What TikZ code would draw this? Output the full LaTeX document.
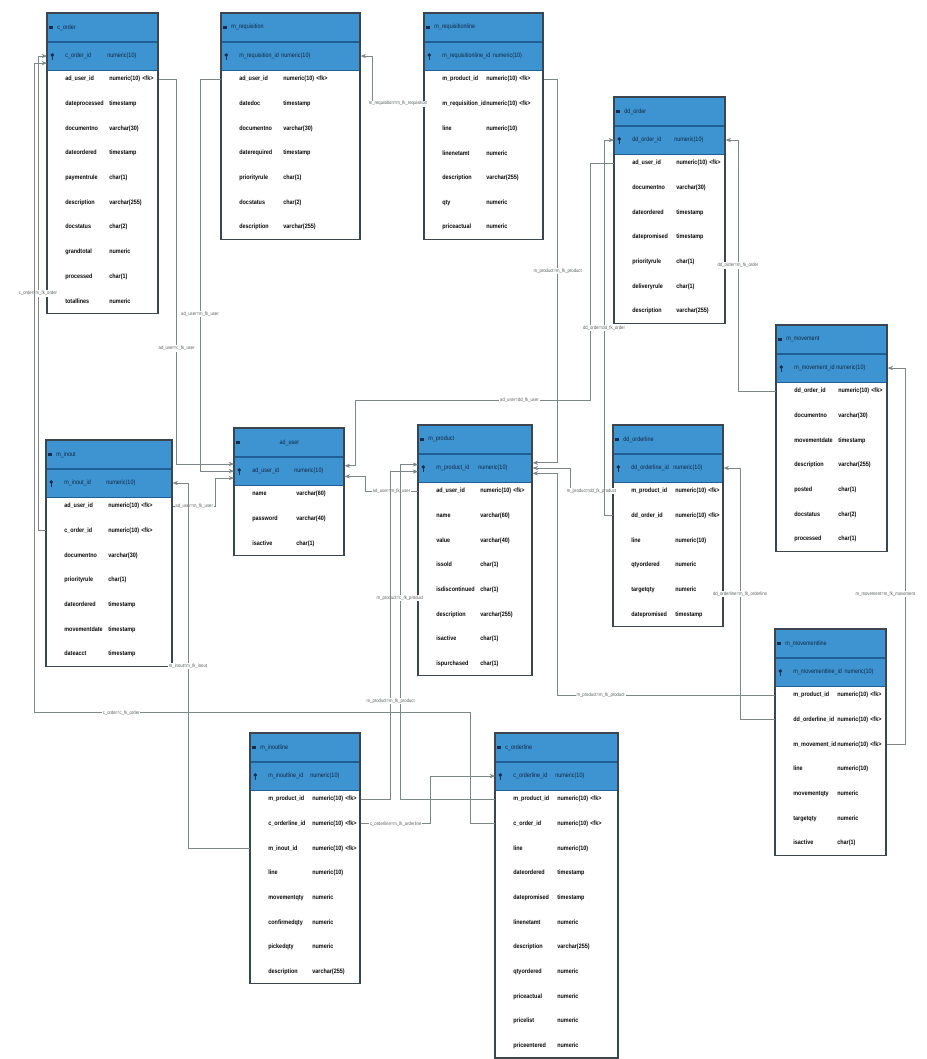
\documentclass[tikz,border=0pt]{standalone}
\usepackage{fontspec}
\setmainfont{Liberation Sans}
\newfontfamily\erfam[FakeStretch=0.86]{Liberation Sans}
\usetikzlibrary{arrows.meta}

\newcommand{\hdrfont}{\erfam\fontsize{3.6}{4}\selectfont}
\newcommand{\rowfont}{\erfam\bfseries\fontsize{3.6}{4}\selectfont}
\newcommand{\lblfont}{\erfam\fontsize{2.8}{3}\selectfont}
% name column: fixed width, or a small gap when the name is longer
\newcommand{\erCol}[2]{\sbox0{#2}\ifdim\wd0<#1\makebox[#1][l]{#2}\else#2\hspace{0.05cm}\fi}

\tikzset{
  tblhead/.style={rectangle, draw={rgb,255:red,30;green,95;blue,150}, fill={rgb,255:red,62;green,148;blue,208}, text={rgb,255:red,18;green,38;blue,68}, inner xsep=0pt, inner ysep=0pt, minimum height=0.56cm, anchor=north west, align=left, font=\hdrfont},
  tblrow/.style={rectangle, inner sep=0pt, minimum height=0.4cm, anchor=west, align=left, font=\rowfont, text={rgb,255:red,10;green,10;blue,10}},
  tblbody/.style={draw={rgb,255:red,60;green,70;blue,80}, line width=0.6pt},
  keyclr/.style={fill={rgb,255:red,20;green,45;blue,80}, draw={rgb,255:red,20;green,45;blue,80}},
  fklink/.style={draw={rgb,255:red,125;green,135;blue,135}, line width=0.35pt, -{Stealth[length=3pt,width=2.4pt]}},
  fklabel/.style={font=\lblfont, text={rgb,255:red,90;green,95;blue,95}, fill=white, inner sep=0.5pt}
}

% #1 name, #2 left, #3 top, #4 width (px), #5 title, #6 key column, #7 rows
\newcommand{\erTable}[7]{%
  \pgfmathsetmacro{\erW}{#4*0.02}%
  \node[tblhead, text width=\erW cm] (#1-t) at (#2,#3) {\hspace*{0.2cm}#5};
  \node[tblhead, text width=\erW cm] (#1-pk) at (#1-t.south west) {\hspace*{0.36cm}\erCol{0.84cm}{#6}numeric(10)};
  \fill[keyclr] ([xshift=3pt,yshift=0.6pt]#1-pk.west) circle (0.8pt);
  \draw[keyclr, line width=0.45pt] ([xshift=3pt]#1-pk.west) -- ++(0,-2.2pt);
  \fill[keyclr] ([xshift=1.6pt,yshift=-0.7pt]#1-t.west) rectangle ++(1.4pt,1.4pt);
  \foreach \fld/\typ [count=\i] in {#7} {
    \pgfmathsetmacro{\erY}{#3+66+24.7*(\i-1)}
    \node[tblrow, text width=\erW cm] (#1-r\i) at (#2,\erY) {\hspace*{0.36cm}\erCol{0.88cm}{\fld}\typ};
    \xdef\erN{\i}
  }
  \pgfmathsetmacro{\erB}{#3+66+24.7*(\erN-1)+12}
  \draw[tblbody] (#2,#3) rectangle (#2+#4,\erB);
}

\begin{document}
\begin{tikzpicture}[x=0.02cm, y=-0.02cm]
\useasboundingbox[fill=white] (0,0) rectangle (927,1059);

% tables
\erTable{cord}{47}{13}{111}{c\_order}{c\_order\_id}{ad\_user\_id/numeric(10) <fk>, dateprocessed/timestamp, documentno/varchar(30), dateordered/timestamp, paymentrule/char(1), description/varchar(255), docstatus/char(2), grandtotal/numeric, processed/char(1), totallines/numeric}
\erTable{mreq}{221}{13}{139}{m\_requisition}{m\_requisition\_id}{ad\_user\_id/numeric(10) <fk>, datedoc/timestamp, documentno/varchar(30), daterequired/timestamp, priorityrule/char(1), docstatus/char(2), description/varchar(255)}
\erTable{mreql}{424}{13}{119}{m\_requisitionline}{m\_requisitionline\_id}{m\_product\_id/numeric(10) <fk>, m\_requisition\_id/numeric(10) <fk>, line/numeric(10), linenetamt/numeric, description/varchar(255), qty/numeric, priceactual/numeric}
\erTable{ddo}{614}{97}{111}{dd\_order}{dd\_order\_id}{ad\_user\_id/numeric(10) <fk>, documentno/varchar(30), dateordered/timestamp, datepromised/timestamp, priorityrule/char(1), deliveryrule/char(1), description/varchar(255)}
\erTable{mmov}{776}{325}{111}{m\_movement}{m\_movement\_id}{dd\_order\_id/numeric(10) <fk>, documentno/varchar(30), movementdate/timestamp, description/varchar(255), posted/char(1), docstatus/char(2), processed/char(1)}
\erTable{minout}{46}{440}{126}{m\_inout}{m\_inout\_id}{ad\_user\_id/numeric(10) <fk>, c\_order\_id/numeric(10) <fk>, documentno/varchar(30), priorityrule/char(1), dateordered/timestamp, movementdate/timestamp, dateacct/timestamp}
\erTable{aduser}{234}{428}{110}{\makebox[1.8cm]{ad\_user}}{ad\_user\_id}{name/varchar(60), password/varchar(40), isactive/char(1)}
\erTable{mprod}{418}{425}{114}{m\_product}{m\_product\_id}{ad\_user\_id/numeric(10) <fk>, name/varchar(60), value/varchar(40), issold/char(1), isdiscontinued/char(1), description/varchar(255), isactive/char(1), ispurchased/char(1)}
\erTable{ddol}{613}{425}{110}{dd\_orderline}{dd\_orderline\_id}{m\_product\_id/numeric(10) <fk>, dd\_order\_id/numeric(10) <fk>, line/numeric(10), qtyordered/numeric, targetqty/numeric, datepromised/timestamp}
\erTable{mmovl}{775}{629}{111}{m\_movementline}{m\_movementline\_id}{m\_product\_id/numeric(10) <fk>, dd\_orderline\_id/numeric(10) <fk>, m\_movement\_id/numeric(10) <fk>, line/numeric(10), movementqty/numeric, targetqty/numeric, isactive/char(1)}
\erTable{minoutl}{250}{733}{110}{m\_inoutline}{m\_inoutline\_id}{m\_product\_id/numeric(10) <fk>, c\_orderline\_id/numeric(10) <fk>, m\_inout\_id/numeric(10) <fk>, line/numeric(10), movementqty/numeric, confirmedqty/numeric, pickedqty/numeric, description/varchar(255)}
\erTable{cordl}{495}{733}{123}{c\_orderline}{c\_orderline\_id}{m\_product\_id/numeric(10) <fk>, c\_order\_id/numeric(10) <fk>, line/numeric(10), dateordered/timestamp, datepromised/timestamp, linenetamt/numeric, description/varchar(255), qtyordered/numeric, priceactual/numeric, pricelist/numeric, priceentered/numeric}

% references to ad_user
\draw[fklink] (cord-r1.east) -- ++(18,0) |- node[fklabel, pos=0.35] {ad\_user=c\_fk\_user} ([yshift=4pt]aduser-pk.west);
\draw[fklink] (mreq-r1.west) -- ++(-21,0) |- node[fklabel, pos=0.3] {ad\_user=m\_fk\_user} (aduser-pk.west);
\draw[fklink] (minout-r1.east) -- node[fklabel] {ad\_user=m\_fk\_user} ++(43,0) |- ([yshift=-4pt]aduser-pk.west);
\draw[fklink] (mprod-r1.west) -- node[fklabel] {ad\_user=m\_fk\_user} ++(-53,0) |- ([yshift=-3pt]aduser-pk.east);
\draw[fklink] (ddo-r1.west) -- ++(-24,0) |- node[fklabel, pos=0.65] {ad\_user=dd\_fk\_user} ++(-235,237) |- ([yshift=3pt]aduser-pk.east);

% references to c_order and m_inout
\draw[fklink] (minout-r2.west) -- ++(-8,0) |- node[fklabel, pos=0.25] {c\_order=m\_fk\_order} (cord-pk.west);
\draw[fklink] (cordl-r2.west) -- ++(-25,0) |- node[fklabel, pos=0.9] {c\_order=c\_fk\_order} ++(-436,-111) |- ([yshift=-4pt]cord-pk.west);
\draw[fklink] (minoutl-r3.west) -- ++(-62,0) |- node[fklabel, pos=0.25] {m\_inout=m\_fk\_inout} (minout-pk.east);
\draw[fklink] (minoutl-r2.east) -- node[fklabel] {c\_orderline=m\_fk\_orderline} ++(70,0) |- (cordl-pk.west);

% references to m_product
\draw[fklink] (cordl-r1.west) -- ++(-95,0) |- node[fklabel, pos=0.3] {m\_product=c\_fk\_product} ([yshift=2pt]mprod-pk.west);
\draw[fklink] (minoutl-r1.east) -- ++(30,0) |- node[fklabel, pos=0.15] {m\_product=m\_fk\_product} ([yshift=-2pt]mprod-pk.west);
\draw[fklink] (mreql-r1.east) -- ++(14,0) |- node[fklabel, pos=0.25] {m\_product=m\_fk\_product} ([yshift=3pt]mprod-pk.east);
\draw[fklink] (ddol-r1.west) -- node[fklabel] {m\_product=dd\_fk\_product} ++(-43,0) |- (mprod-pk.east);
\draw[fklink] (mmovl-r1.west) -- node[fklabel, pos=0.8] {m\_product=m\_fk\_product} ++(-218,0) |- ([yshift=-3pt]mprod-pk.east);

% requisition, distribution order, movement
\draw[fklink] (mreql-r2.west) -- node[fklabel] {m\_requisition=m\_fk\_requisition} ++(-52,0) |- (mreq-pk.east);
\draw[fklink] (ddol-r2.west) -- ++(-9,0) |- node[fklabel, pos=0.25] {dd\_order=dd\_fk\_order} (ddo-pk.west);
\draw[fklink] (mmov-r1.west) -- ++(-38,0) |- node[fklabel, pos=0.25] {dd\_order=m\_fk\_order} (ddo-pk.east);
\draw[fklink] (mmovl-r2.west) -- ++(-35,0) |- node[fklabel, pos=0.25] {dd\_orderline=m\_fk\_orderline} (ddol-pk.east);
\draw[fklink] (mmovl-r3.east) -- ++(19,0) |- node[fklabel, pos=0.2, anchor=east, xshift=6pt] {m\_movement=m\_fk\_movement} (mmov-pk.east);
\end{tikzpicture}
\end{document}
